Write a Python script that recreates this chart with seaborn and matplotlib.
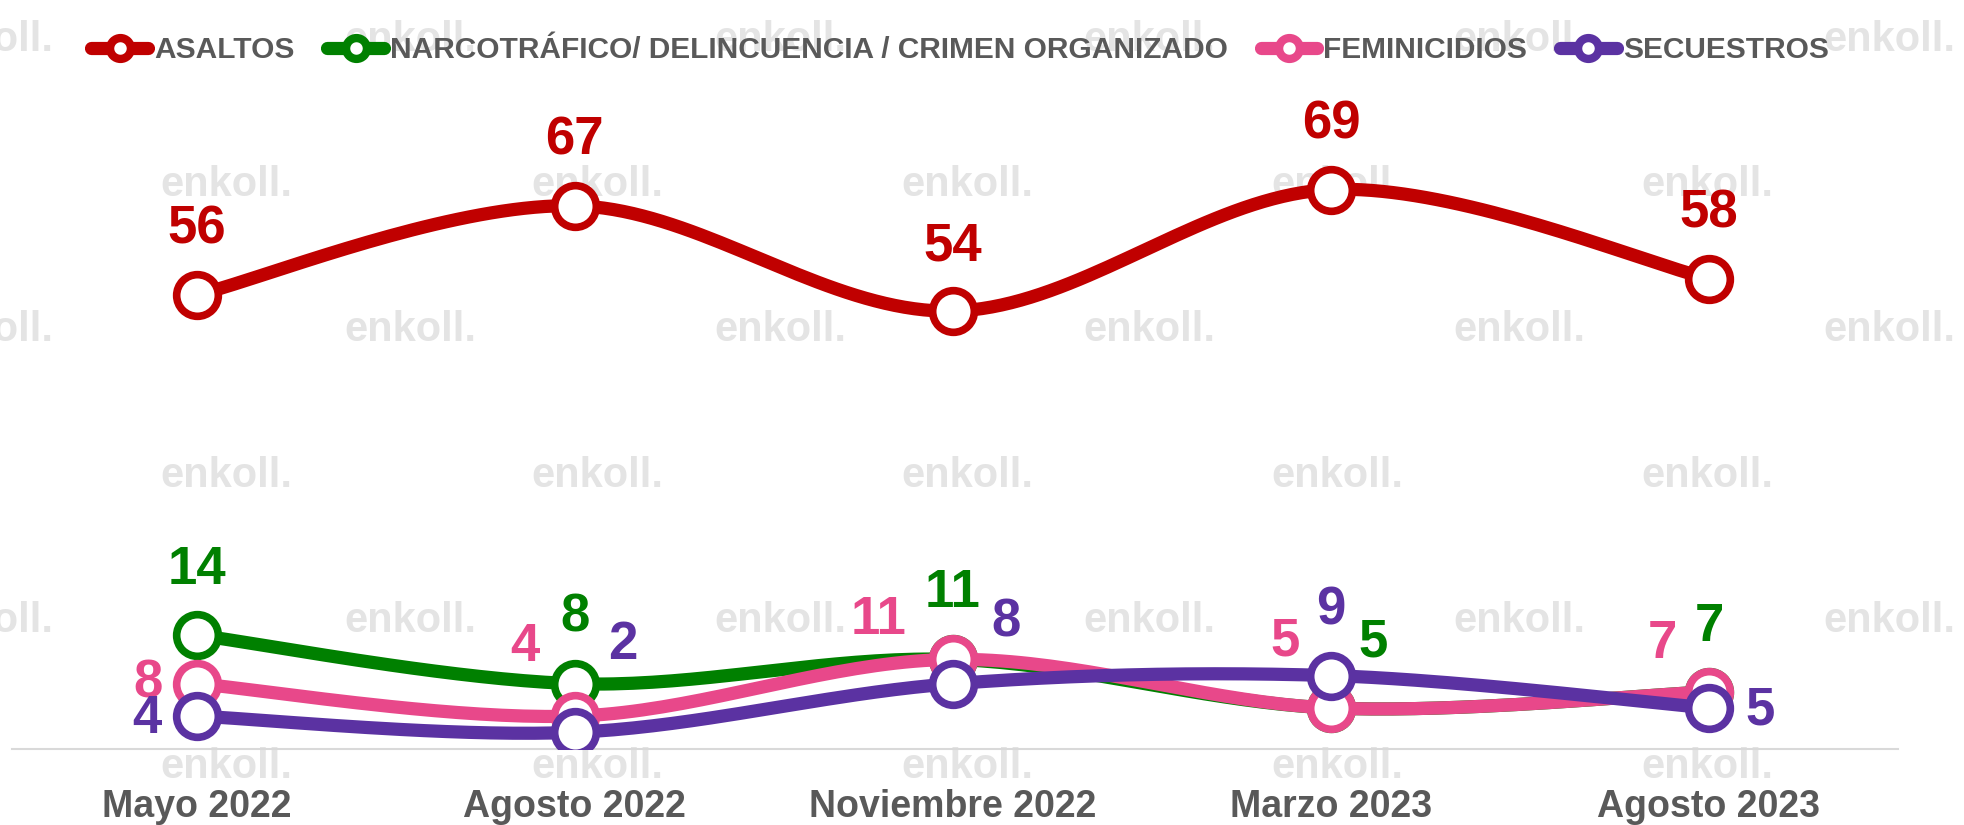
import numpy as np
import pandas as pd
import matplotlib
matplotlib.use("Agg")
import matplotlib.pyplot as plt
from matplotlib.lines import Line2D
import seaborn as sns

# -----------------------------------
# Data
# -----------------------------------
periods = ["Mayo 2022", "Agosto 2022", "Noviembre 2022", "Marzo 2023", "Agosto 2023"]
asaltos = [56, 67, 54, 69, 58]
narco = [14, 8, 11, 5, 7]
feminicidios = [8, 4, 11, 5, 7]
secuestros = [4, 2, 8, 9, 5]

names = ["ASALTOS", "NARCOTRÁFICO/ DELINCUENCIA / CRIMEN ORGANIZADO",
         "FEMINICIDIOS", "SECUESTROS"]
colors = ["#C00000", "#008000", "#E8488A", "#5B32A2"]
TEXT_GRAY = "#595959"

# label offsets in pixels (dx, dy) for each point
offsets = [
    [(0, 65)] * 5,
    [(0, 65), (0, 66), (0, 66), (42, 65), (0, 65)],
    [(-49, 0), (-50, 69), (-74, 39), (-46, 66), (-47, 48)],
    [(-50, -3), (48, 87), (53, 61), (0, 65), (51, -3)],
]

sns.set_style("white")
plt.rcParams["font.family"] = ["Liberation Sans", "DejaVu Sans"]


def smooth(xs, ys, n=40):
    # excel-like smoothed line (cubic bezier through the points)
    pts = np.column_stack([xs, ys]).astype(float)
    P = np.vstack([pts[0], pts, pts[-1]])
    t = np.linspace(0, 1, n)[:, None]
    out = []
    for i in range(1, len(P) - 2):
        p0, p1, p2, p3 = P[i - 1], P[i], P[i + 1], P[i + 2]
        c1 = p1 + (p2 - p0) / 6
        c2 = p2 - (p3 - p1) / 6
        seg = ((1 - t) ** 3) * p1 + 3 * ((1 - t) ** 2) * t * c1 \
            + 3 * (1 - t) * t ** 2 * c2 + t ** 3 * p2
        out.append(seg if i == 1 else seg[1:])
    return np.vstack(out)


fig = plt.figure(figsize=(19.65, 8.25), dpi=100)
ax = fig.add_axes([12 / 1965, 76.5 / 825, 1886 / 1965, 748.5 / 825])

# -----------------------------------
# Watermark
# -----------------------------------
rows_a = [185, 476, 767]
rows_b = [40, 330, 621]
cols_a = [226, 597, 967, 1337, 1707]
cols_b = [-13, 410, 780, 1149, 1519, 1889]
for ry in rows_a:
    for cx in cols_a:
        fig.text(cx / 1965, 1 - ry / 825, "enkoll.", color="#E4E4E4",
                 fontsize=30, fontweight="bold", ha="center", va="center", zorder=-1)
for ry in rows_b:
    for cx in cols_b:
        fig.text(cx / 1965, 1 - ry / 825, "enkoll.", color="#E4E4E4",
                 fontsize=30, fontweight="bold", ha="center", va="center", zorder=-1)

# -----------------------------------
# Lines
# -----------------------------------
x = np.arange(len(periods))
series = [asaltos, narco, feminicidios, secuestros]
for k, (vals, c) in enumerate(zip(series, colors)):
    curve = smooth(x, vals)
    df = pd.DataFrame({"x": curve[:, 0], "y": curve[:, 1]})
    sns.lineplot(data=df, x="x", y="y", sort=False, estimator=None,
                 color=c, linewidth=9.5, ax=ax, zorder=2 + 2 * k)
    ax.plot(x, vals, linestyle="none", marker="o", ms=30, mfc="white",
            mec=c, mew=5.5, zorder=3 + 2 * k)
    for i, v in enumerate(vals):
        dx, dy = offsets[k][i]
        ax.annotate(str(v), (x[i], v), xytext=(dx, dy), textcoords="offset pixels",
                    ha="center", va="center", fontsize=38, fontweight="bold",
                    color=c, zorder=20)

ax.set_xlim(-0.489, 4.5)
ax.set_ylim(0, 92.4)
ax.set_xticks(x)
ax.set_xticklabels(periods, fontsize=27, fontweight="bold", color=TEXT_GRAY)
ax.tick_params(axis="x", length=0, pad=29)
ax.set_yticks([])
ax.set_xlabel("")
ax.set_ylabel("")
ax.patch.set_alpha(0)
for s in ["top", "left", "right"]:
    ax.spines[s].set_visible(False)
ax.spines["bottom"].set_color("#D9D9D9")
ax.spines["bottom"].set_linewidth(1.5)

# -----------------------------------
# Legend
# -----------------------------------
handles = [Line2D([0], [0], color=c, lw=9.5, marker="o", ms=15, mfc="white",
                  mec=c, mew=6) for c in colors]
leg = fig.legend(handles, names, loc="center", bbox_to_anchor=(960 / 1965, 1 - 50 / 825),
                 ncol=4, frameon=False, fontsize=21.5, labelcolor=TEXT_GRAY,
                 handlelength=1.9, handletextpad=0.2, columnspacing=1.1)
for t in leg.get_texts():
    t.set_fontweight("bold")

fig.savefig("out.png", dpi=100)
plt.close(fig)
